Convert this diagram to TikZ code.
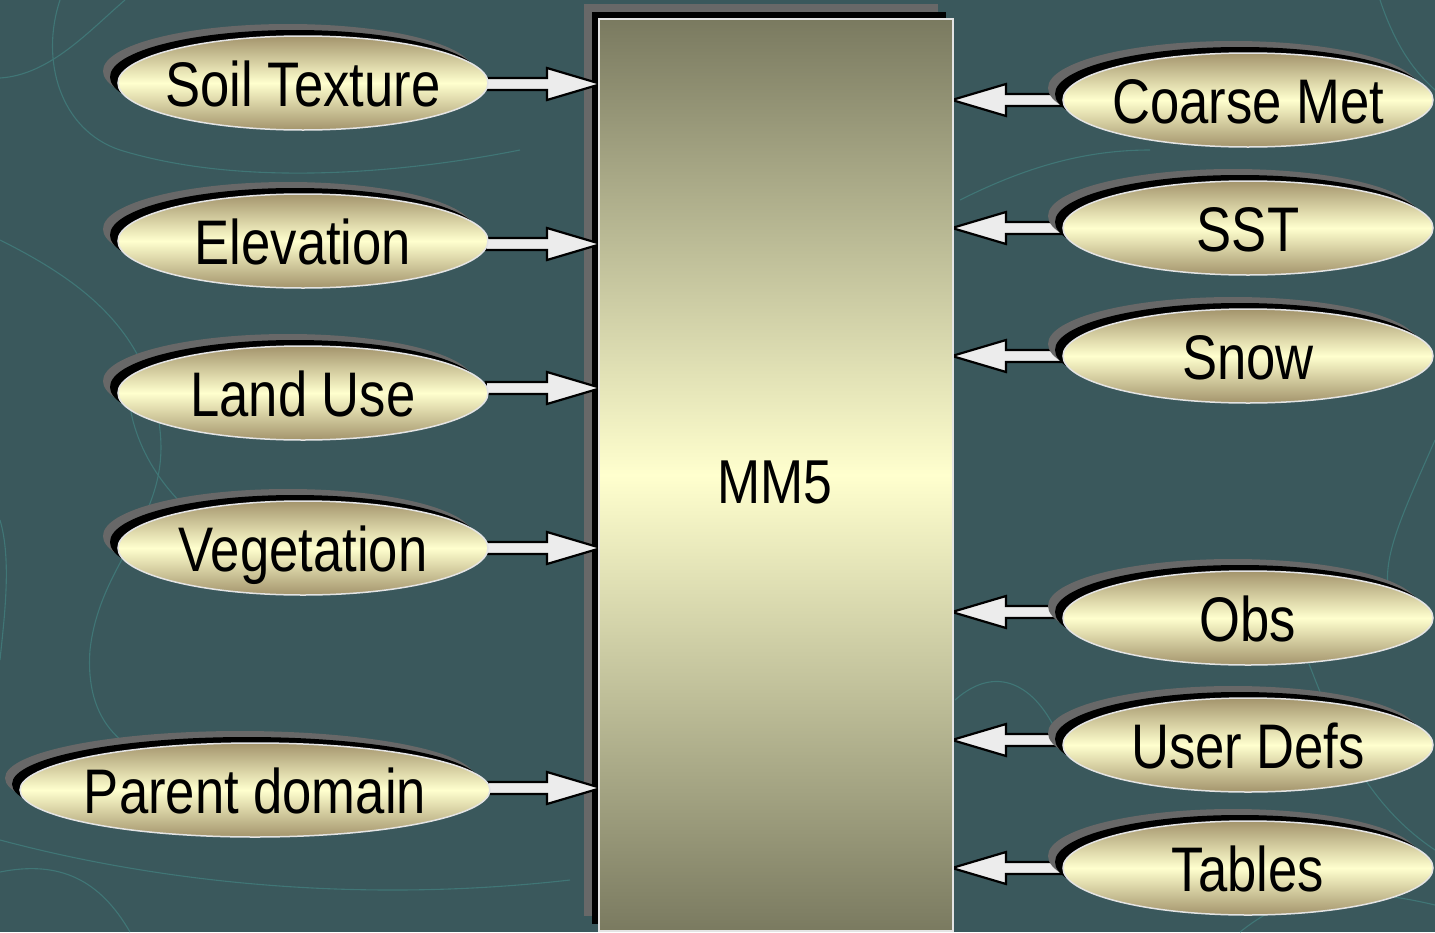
\documentclass[tikz,border=0pt]{standalone}
\usepackage{fontspec}
\setmainfont{Liberation Sans}[FakeStretch=0.835]
\usetikzlibrary{shapes.geometric,calc}
\definecolor{bg}{RGB}{58,88,92}
\definecolor{contour}{RGB}{64,118,118}
\definecolor{shgray}{RGB}{104,104,104}
\definecolor{ovtop}{RGB}{163,148,108}
\definecolor{ovmid}{RGB}{255,255,206}
\definecolor{boxtop}{RGB}{122,122,96}
\definecolor{boxmid}{RGB}{255,255,206}
\definecolor{rim}{RGB}{228,228,228}
\definecolor{arrfill}{RGB}{236,236,236}
\pgfdeclarelayer{back}
\pgfdeclarelayer{arr}
\pgfsetlayers{back,arr,main}
\tikzset{
  oval/.style={ellipse, draw=rim, line width=1.5pt, inner sep=0pt,
    minimum height=94pt, top color=ovtop, bottom color=ovtop, middle color=ovmid},
  lbl/.style={inner sep=0pt, text height=47pt, text depth=0pt, font=\fontsize{63}{63}\selectfont},
  barrow/.style={draw=black, fill=arrfill, line width=2.2pt, line join=miter},
  contourline/.style={draw=contour, line width=1.1pt},
  mainbox/.style={rectangle, draw=rim, line width=2pt, inner sep=0pt,
    minimum width=354pt, minimum height=912pt,
    top color=boxtop, bottom color=boxtop, middle color=boxmid}
}
% name, cx, cy, width, text
\newcommand\ovalitem[5]{%
  \fill[shgray] (#2-15,#3-12) ellipse [x radius=#4/2, y radius=47];
  \fill[black] (#2-8,#3-6) ellipse [x radius=#4/2, y radius=47];
  \node[oval, minimum width=#4pt] (#1) at (#2,#3) {};
  \node[lbl] (#1-t) at (#1.center) {#5};
}
% left input arrow: source node, dy
\newcommand\inarrowL[2]{%
  \coordinate (#1-s) at ($(#1.east)+(-3,#2)$);
  \coordinate (#1-e) at ($(mm5.west |- #1-s)+(3,0)$);
  \begin{pgfonlayer}{arr}
  \draw[barrow] ($(#1-s)+(0,-6)$) -- ($(#1-e)+(-54,-6)$) -- ($(#1-e)+(-54,-16)$) --
    (#1-e) -- ($(#1-e)+(-54,16)$) -- ($(#1-e)+(-54,6)$) -- ($(#1-s)+(0,6)$) -- cycle;
  \end{pgfonlayer}
}
% right input arrow: source node, dy
\newcommand\inarrowR[2]{%
  \coordinate (#1-s) at ($(#1.west)+(8,#2)$);
  \coordinate (#1-e) at ($(mm5.east |- #1-s)+(-2,0)$);
  \begin{pgfonlayer}{arr}
  \draw[barrow] ($(#1-s)+(0,-6)$) -- ($(#1-e)+(54,-6)$) -- ($(#1-e)+(54,-16)$) --
    (#1-e) -- ($(#1-e)+(54,16)$) -- ($(#1-e)+(54,6)$) -- ($(#1-s)+(0,6)$) -- cycle;
  \end{pgfonlayer}
}
\begin{document}
\begin{tikzpicture}[x=1pt,y=-1pt]
\useasboundingbox (0,0) rectangle (1435,932);
\clip (0,0) rectangle (1435,932);
\begin{pgfonlayer}{back}
  \fill[bg] (0,0) rectangle (1435,932);
  % faint background contours
  \draw[contourline] (0,78) .. controls (50,75) and (90,30) .. (125,0);
  \draw[contourline] (60,0) .. controls (40,60) and (60,130) .. (120,150) .. controls (250,190) and (420,170) .. (520,150);
  \draw[contourline] (0,240) .. controls (80,280) and (150,330) .. (160,430) .. controls (170,520) and (100,560) .. (90,650) .. controls (85,720) and (120,760) .. (200,770);
  \draw[contourline] (0,520) .. controls (12,560) and (4,620) .. (0,660);
  \draw[contourline] (130,360) .. controls (120,420) and (150,480) .. (200,520);
  \draw[contourline] (960,200) .. controls (1020,170) and (1080,150) .. (1150,150);
  \draw[contourline] (1380,0) .. controls (1400,60) and (1425,80) .. (1435,90);
  \draw[contourline] (1300,640) .. controls (1330,720) and (1360,800) .. (1435,850);
  \draw[contourline] (955,700) .. controls (1000,660) and (1040,690) .. (1060,740);
  \draw[contourline] (1435,440) .. controls (1400,520) and (1380,560) .. (1390,600);
  \draw[contourline] (0,840) .. controls (150,880) and (350,905) .. (570,880);
  \draw[contourline] (130,932) .. controls (100,880) and (60,860) .. (0,872);
  \draw[contourline] (1240,932) .. controls (1280,900) and (1330,880) .. (1435,905);
  % box shadows
  \fill[shgray] (584,4) rectangle (938,916);
  \fill[black] (592,12) rectangle (946,924);
\end{pgfonlayer}

\node[mainbox] (mm5) at (776,475) {};
\node[lbl, font=\fontsize{62}{62}\selectfont] (mm5-t) at (775,480) {MM5};

% left inputs
\ovalitem{soil}{303}{83}{370}{Soil Texture}
\ovalitem{elev}{303}{241}{370}{Elevation}
\ovalitem{land}{303}{393}{370}{Land Use}
\ovalitem{veg}{303}{548}{370}{Vegetation}
\ovalitem{parent}{255}{790}{470}{Parent domain}
% right inputs
\ovalitem{coarse}{1248}{100}{370}{Coarse Met}
\ovalitem{sst}{1248}{228}{370}{SST}
\ovalitem{snow}{1248}{356}{370}{Snow}
\ovalitem{obs}{1248}{618}{370}{Obs}
\ovalitem{user}{1248}{745}{370}{User Defs}
\ovalitem{tables}{1248}{868}{370}{Tables}

\inarrowL{soil}{1}
\inarrowL{elev}{3}
\inarrowL{land}{-5}
\inarrowL{veg}{0}
\inarrowL{parent}{-2}
\inarrowR{coarse}{0}
\inarrowR{sst}{0}
\inarrowR{snow}{0}
\inarrowR{obs}{-6}
\inarrowR{user}{-5}
\inarrowR{tables}{0}
\end{tikzpicture}
\end{document}
